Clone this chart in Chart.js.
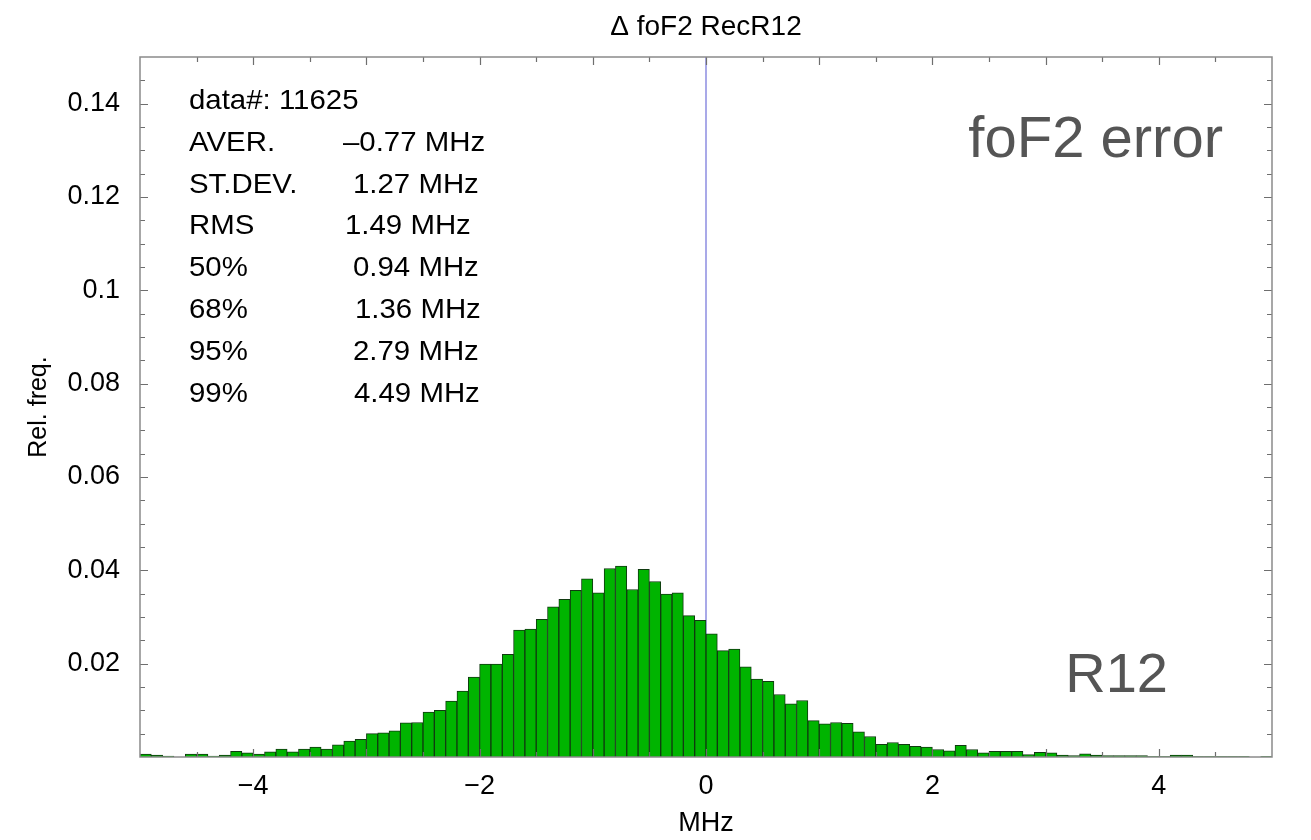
<!DOCTYPE html>
<html>
<head>
<meta charset="utf-8">
<script src="https://cdn.jsdelivr.net/npm/chart.js@4.4.1/dist/chart.umd.min.js"></script>
<style>
  html, body { margin: 0; padding: 0; background: #ffffff; }
  #wrap { width: 1311px; height: 840px; }
</style>
</head>
<body>
<div id="wrap"><canvas id="c" width="1311" height="840"></canvas></div>
<script>
// ---- data ----
const binLabels = ["-5.0","-4.9","-4.8","-4.7","-4.6","-4.5","-4.4","-4.3","-4.2","-4.1",
  "-4.0","-3.9","-3.8","-3.7","-3.6","-3.5","-3.4","-3.3","-3.2","-3.1",
  "-3.0","-2.9","-2.8","-2.7","-2.6","-2.5","-2.4","-2.3","-2.2","-2.1",
  "-2.0","-1.9","-1.8","-1.7","-1.6","-1.5","-1.4","-1.3","-1.2","-1.1",
  "-1.0","-0.9","-0.8","-0.7","-0.6","-0.5","-0.4","-0.3","-0.2","-0.1",
  "0.0","0.1","0.2","0.3","0.4","0.5","0.6","0.7","0.8","0.9",
  "1.0","1.1","1.2","1.3","1.4","1.5","1.6","1.7","1.8","1.9",
  "2.0","2.1","2.2","2.3","2.4","2.5","2.6","2.7","2.8","2.9",
  "3.0","3.1","3.2","3.3","3.4","3.5","3.6","3.7","3.8","3.9",
  "4.0","4.1","4.2","4.3","4.4","4.5","4.6","4.7","4.8","4.9"];

const relFreq = [
  0.0006,0.0004,0.0002,0.0000,0.0006,0.0006,0.0002,0.0004,0.0012,0.0009,
  0.0006,0.0011,0.0017,0.0011,0.0017,0.0021,0.0017,0.0026,0.0034,0.0038,
  0.0050,0.0052,0.0056,0.0073,0.0074,0.0096,0.0100,0.0120,0.0141,0.0171,
  0.0199,0.0199,0.0220,0.0272,0.0274,0.0295,0.0322,0.0338,0.0357,0.0382,
  0.0352,0.0404,0.0409,0.0359,0.0402,0.0376,0.0349,0.0352,0.0303,0.0293,
  0.0264,0.0228,0.0231,0.0193,0.0167,0.0162,0.0134,0.0114,0.0121,0.0078,
  0.0071,0.0074,0.0072,0.0054,0.0044,0.0027,0.0031,0.0027,0.0023,0.0021,
  0.0016,0.0013,0.0025,0.0016,0.0009,0.0012,0.0012,0.0012,0.0005,0.0010,
  0.0009,0.0004,0.0003,0.0007,0.0004,0.0003,0.0003,0.0003,0.0003,0.0001,
  0.0001,0.0004,0.0004,0.0001,0.0001,0.0001,0.0001,0.0001,0.0000,0.0001];

const xTickValues = [-4, -2, 0, 2, 4];
const yTickValues = [0.02, 0.04, 0.06, 0.08, 0.1, 0.12, 0.14];
const xRange = [-5, 5];
const yRange = [0, 0.15];
const refLineX = 0;

const titleText = "\u0394 foF2 RecR12";
const statLabels = ["data#: 11625", "AVER.", "ST.DEV.", "RMS", "50%", "68%", "95%", "99%"];
const statValues = ["", "\u20130.77 MHz", "1.27 MHz", "1.49 MHz", "0.94 MHz", "1.36 MHz", "2.79 MHz", "4.49 MHz"];
const noteTop = "foF2 error";
const noteBottom = "R12";

// ---- styling ----
const FONT = "'Liberation Sans', Arial, Helvetica, sans-serif";
const statValueX = [0, 343, 353, 345, 353, 355, 353, 354];
const STAT_STRETCH = 1.05;

const decorPlugin = {
  id: 'decor',
  beforeDatasetsDraw(chart) {
    const {ctx, chartArea: a, scales} = chart;
    const px = scales.x2.getPixelForValue(refLineX);
    ctx.save();
    ctx.strokeStyle = '#8c8ce0';
    ctx.lineWidth = 1.5;
    ctx.beginPath();
    ctx.moveTo(px, a.top);
    ctx.lineTo(px, a.bottom);
    ctx.stroke();
    ctx.restore();
  },
  afterDatasetsDraw(chart) {
    const {ctx, chartArea: a, scales} = chart;
    const xs = scales.x2, ys = scales.y;
    ctx.save();
    ctx.strokeStyle = '#6e6e6e';
    ctx.lineWidth = 1.2;
    ctx.beginPath();
    for (let i = 1; i < 20; i++) {
      const v = xRange[0] + i * 0.5;
      const px = Math.round(xs.getPixelForValue(v)) + 0.5;
      const len = (i % 2 === 0) ? 8 : 5;
      ctx.moveTo(px, a.bottom); ctx.lineTo(px, a.bottom - len);
      ctx.moveTo(px, a.top); ctx.lineTo(px, a.top + len);
    }
    for (let i = 1; i < 30; i++) {
      const v = i * 0.005;
      const py = Math.round(ys.getPixelForValue(v)) + 0.5;
      const len = (i % 4 === 0) ? 8 : 5;
      ctx.moveTo(a.left, py); ctx.lineTo(a.left + len, py);
      ctx.moveTo(a.right, py); ctx.lineTo(a.right - len, py);
    }
    ctx.stroke();
    ctx.strokeStyle = '#8a8a8a';
    ctx.lineWidth = 1.5;
    ctx.strokeRect(a.left, a.top, a.right - a.left, a.bottom - a.top);
    ctx.restore();
  },
  afterDraw(chart) {
    const {ctx, chartArea: a} = chart;
    ctx.save();
    ctx.fillStyle = '#000';
    ctx.textBaseline = 'alphabetic';
    ctx.font = `28px ${FONT}`;
    ctx.textAlign = 'center';
    ctx.fillText(titleText, (a.left + a.right) / 2, 35);
    ctx.font = `28px ${FONT}`;
    ctx.textAlign = 'left';
    for (let i = 0; i < statLabels.length; i++) {
      const y = 109 + i * 41.8;
      ctx.save();
      ctx.translate(189, y); ctx.scale(STAT_STRETCH, 1);
      ctx.fillText(statLabels[i], 0, 0);
      ctx.restore();
      if (statValues[i]) {
        ctx.save();
        ctx.translate(statValueX[i], y); ctx.scale(STAT_STRETCH, 1);
        ctx.fillText(statValues[i], 0, 0);
        ctx.restore();
      }
    }
    ctx.fillStyle = '#555555';
    ctx.textAlign = 'right';
    ctx.font = `58px ${FONT}`;
    ctx.fillText(noteTop, 1223, 157);
    ctx.font = `56px ${FONT}`;
    ctx.fillText(noteBottom, 1168, 692);
    ctx.restore();
  }
};

const fmtTick = v => {
  const s = String(v);
  return s.startsWith('-') ? '\u2212' + s.slice(1) : s;
};

new Chart(document.getElementById('c'), {
  type: 'bar',
  data: {
    labels: binLabels,
    datasets: [
      {
        data: relFreq,
        xAxisID: 'x',
        yAxisID: 'y',
        backgroundColor: '#00b400',
        borderColor: '#103a10',
        borderWidth: 1,
        barPercentage: 1,
        categoryPercentage: 1
      }
    ]
  },
  options: {
    responsive: false,
    devicePixelRatio: 1,
    animation: false,
    events: [],
    layout: { padding: { left: 0, top: 57, right: 39, bottom: 0 } },
    plugins: {
      legend: { display: false },
      tooltip: { enabled: false },
      title: { display: false }
    },
    scales: {
      x: {
        type: 'category',
        display: false,
        offset: true,
        grid: { display: false },
        ticks: { autoSkip: false }
      },
      x2: {
        type: 'linear',
        position: 'bottom',
        min: xRange[0],
        max: xRange[1],
        offset: false,
        afterBuildTicks: s => { s.ticks = xTickValues.map(v => ({value: v})); },
        afterFit: s => { s.height = 83; },
        grid: { display: false, drawTicks: false, offset: false },
        border: { display: false },
        ticks: {
          color: '#000',
          font: { family: FONT, size: 27 },
          padding: 13,
          maxRotation: 0,
          autoSkip: false,
          callback: v => fmtTick(v)
        },
        title: {
          display: true,
          text: 'MHz',
          color: '#000',
          font: { family: FONT, size: 27 },
          padding: { top: 0, bottom: 0 }
        }
      },
      y: {
        type: 'linear',
        position: 'left',
        min: yRange[0],
        max: yRange[1],
        afterBuildTicks: s => { s.ticks = yTickValues.map(v => ({value: v})); },
        afterFit: s => { s.width = 140; },
        grid: { display: false, drawTicks: false },
        border: { display: false },
        ticks: {
          color: '#000',
          font: { family: FONT, size: 27 },
          padding: 20,
          autoSkip: false,
          callback: v => fmtTick(v)
        },
        title: {
          display: true,
          text: 'Rel. freq.',
          color: '#000',
          font: { family: FONT, size: 25 },
          padding: { top: 24, bottom: 0 }
        }
      }
    }
  },
  plugins: [decorPlugin]
});
</script>
</body>
</html>
